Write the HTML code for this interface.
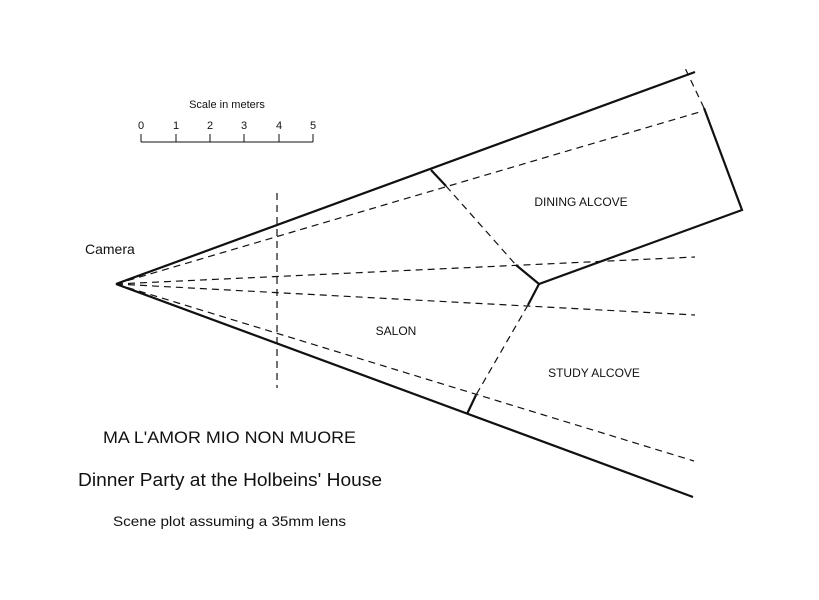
<!DOCTYPE html>
<html><head><meta charset="utf-8"><style>
html,body{margin:0;padding:0;background:#fff;}
svg{display:block;}
text{font-family:"Liberation Sans",sans-serif;fill:#111;}
</style></head><body>
<svg width="819" height="600" viewBox="0 0 819 600" xmlns="http://www.w3.org/2000/svg">
<rect width="819" height="600" fill="#fff"/>
<g stroke="#111" fill="none">
 <!-- scale -->
 <g stroke-width="1">
  <line x1="141" y1="142" x2="313" y2="142"/>
  <line x1="141" y1="134" x2="141" y2="142"/>
  <line x1="176" y1="134" x2="176" y2="142"/>
  <line x1="210" y1="134" x2="210" y2="142"/>
  <line x1="244" y1="134" x2="244" y2="142"/>
  <line x1="279" y1="134" x2="279" y2="142"/>
  <line x1="313" y1="134" x2="313" y2="142"/>
 </g>
 <!-- solid walls -->
 <g stroke-width="2.2" stroke-linejoin="miter">
  <line x1="116" y1="284" x2="695" y2="72"/>
  <line x1="116" y1="284" x2="693" y2="497"/>
  <polyline points="704,108 742,210 539,284 516,265"/>
  <line x1="431" y1="170" x2="446" y2="186"/>
  <line x1="539" y1="284" x2="528" y2="305"/>
  <line x1="476" y1="395" x2="467" y2="414"/>
 </g>
 <!-- dashed -->
 <g stroke-width="1.2" stroke-dasharray="7,5">
  <line x1="116" y1="284" x2="703" y2="111"/>
  <line x1="116" y1="284" x2="695" y2="257"/>
  <line x1="116" y1="284" x2="695" y2="315"/>
  <line x1="116" y1="284" x2="694" y2="461"/>
  <line x1="277" y1="193" x2="277" y2="388"/>
  <line x1="446" y1="186" x2="516" y2="265"/>
  <line x1="528" y1="305" x2="476" y2="395"/>
  <line x1="704" y1="108" x2="685" y2="68"/>
 </g>
</g>
<text x="227" y="108" font-size="11" text-anchor="middle">Scale in meters</text>
<g font-size="11" text-anchor="middle">
 <text x="141" y="129">0</text><text x="176" y="129">1</text><text x="210" y="129">2</text>
 <text x="244" y="129">3</text><text x="279" y="129">4</text><text x="313" y="129">5</text>
</g>
<text x="85" y="254" font-size="14">Camera</text>
<text x="581" y="206" font-size="12" text-anchor="middle">DINING ALCOVE</text>
<text x="396" y="335" font-size="12" text-anchor="middle">SALON</text>
<text x="594" y="377" font-size="12" text-anchor="middle">STUDY ALCOVE</text>
<text x="103" y="443" font-size="17" textLength="253" lengthAdjust="spacingAndGlyphs">MA L'AMOR MIO NON MUORE</text>
<text x="78" y="486" font-size="18" textLength="304" lengthAdjust="spacingAndGlyphs">Dinner Party at the Holbeins' House</text>
<text x="113" y="526" font-size="14" textLength="233" lengthAdjust="spacingAndGlyphs">Scene plot assuming a 35mm lens</text>
</svg>
</body></html>
